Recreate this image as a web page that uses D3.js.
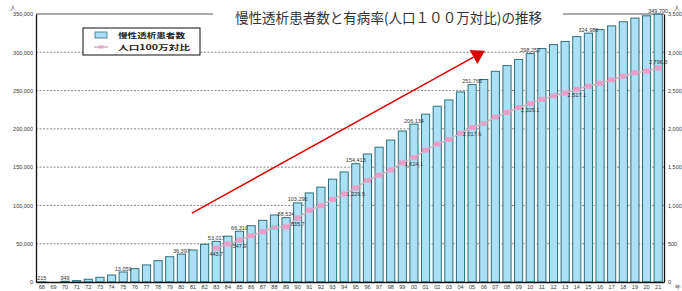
<!DOCTYPE html>
<html>
<head>
<meta charset="utf-8">
<script src="https://cdn.jsdelivr.net/npm/d3@7"></script>
<style>
  body { margin: 0; background: #fff; }
  svg { display: block; font-family: "Liberation Sans", Arial, sans-serif; }
</style>
</head>
<body>
<div id="chart"></div>
<script>
// years 1968 - 2021, shown as two digit labels
const yearLabels = ['68','69','70','71','72','73','74','75','76','77','78','79','80','81','82','83','84','85','86','87',
  '88','89','90','91','92','93','94','95','96','97','98','99','00','01','02','03','04','05','06','07',
  '08','09','10','11','12','13','14','15','16','17','18','19','20','21'];

// chronic dialysis patients (people)
const patients = [215, null, 949, 1826, 3631, 6148, 9107, 13059, 17400, 22300, 27800, 33000, 36397, 41800, 49200, 53017, 59811, 66310, 73537, 80553,
  87500, 84000, 103296, 116303, 123926, 134298, 143709, 154413, 167192, 175988, 185322, 197213, 206134, 219183, 229538, 237710, 248166, 257765, 264473, 275242,
  282622, 290661, 298252, 304856, 310007, 314180, 320448, 324986, 329609, 334505, 339841, 344640, 347671, 349700];

// prevalence per million population
const perMillion = [null, null, null, null, null, null, null, null, null, null, null, null, null, null, null, 443.7, 497.5, 547.9, 604.4, 658.9,
  712.0, 719.0, 835.7, 937.5, 997.2, 1079.0, 1149.0, 1229.5, 1328.0, 1395.0, 1464.0, 1556.0, 1624.1, 1722.0, 1801.0, 1862.0, 1943.0, 2017.6, 2070.0, 2154.0,
  2213.0, 2279.0, 2329.1, 2385.0, 2431.0, 2468.0, 2517.1, 2557.0, 2597.0, 2640.0, 2688.0, 2732.0, 2754.0, 2796.3];

// value labels printed on the chart
const patientLabelYears = ['68','70','75','80','83','85','89','90','95','00','05','10','15','21'];
const patientLabelTexts = ['215','949','13,059','36,397','53,017','66,310','88,534','103,296','154,413','206,134','251,765','298,252','324,986','349,700'];
const rateLabelYears = ['83','85','90','95','00','05','10','14','21'];
const rateLabelTexts = ['443.7','547.9','835.7','1,229.5','1,624.1','2,017.6','2,329.1','2,517.1','2,796.3'];

const leftTicks = [0, 50000, 100000, 150000, 200000, 250000, 300000, 350000];
const rightTicks = [0, 500, 1000, 1500, 2000, 2500, 3000, 3500];

const titleText = '慢性透析患者数と有病率(人口１００万対比)の推移';
const legendTexts = ['慢性透析患者数', '人口100万対比'];

function drawChart(el) {
    const size = { width: 682, height: 291 };
    const plot = { left: 36, right: 664, top: 14, bottom: 282 };

    const svg = d3.select(el).append('svg')
        .attr('width', size.width)
        .attr('height', size.height);

    // scales
    const x = d3.scaleBand()
        .domain(yearLabels)
        .range([plot.left, plot.right])
        .paddingInner(0.3)
        .paddingOuter(0.15);
    const yLeft = d3.scaleLinear().domain([0, 350000]).range([plot.bottom, plot.top]);
    const yRight = d3.scaleLinear().domain([0, 3500]).range([plot.bottom, plot.top]);
    const cx = d => x(d) + x.bandwidth() / 2;
    // fractional position along the years (for the annotation arrow)
    const xIdx = d3.scaleLinear().domain([0, yearLabels.length - 1])
        .range([cx(yearLabels[0]), cx(yearLabels[yearLabels.length - 1])]);

    // grid lines
    svg.append('g')
        .selectAll('line')
        .data(leftTicks.filter(t => t > 0 && t < 350000))
        .enter().append('line')
        .attr('x1', plot.left).attr('x2', plot.right)
        .attr('y1', d => yLeft(d)).attr('y2', d => yLeft(d))
        .style('stroke', '#8a8a8a')
        .style('stroke-width', 1)
        .style('stroke-dasharray', '2,1.5');
    svg.append('line')
        .attr('x1', plot.left).attr('x2', plot.right)
        .attr('y1', yLeft(350000)).attr('y2', yLeft(350000))
        .style('stroke', '#a8a8a8')
        .style('stroke-width', 2);

    // bars
    svg.append('g')
        .selectAll('rect')
        .data(yearLabels.map((y, i) => ({ year: y, value: patients[i] })).filter(d => d.value !== null))
        .enter().append('rect')
        .attr('x', d => x(d.year))
        .attr('y', d => yLeft(d.value))
        .attr('width', x.bandwidth())
        .attr('height', d => plot.bottom - yLeft(d.value))
        .style('fill', '#ace0f4')
        .style('stroke', '#2f6f7c')
        .style('stroke-width', 1);

    // bar value labels
    svg.append('g')
        .selectAll('text')
        .data(patientLabelYears.map((y, i) => ({ year: y, text: patientLabelTexts[i], value: patients[yearLabels.indexOf(y)] })))
        .enter().append('text')
        .attr('x', d => cx(d.year))
        .attr('y', d => yLeft(d.value) - 1.5)
        .attr('text-anchor', 'middle')
        .style('font-size', '5.5px')
        .style('fill', '#333')
        .text(d => d.text);

    // per million line
    const ratePoints = yearLabels.map((y, i) => ({ year: y, value: perMillion[i] })).filter(d => d.value !== null);
    const line = d3.line().x(d => cx(d.year)).y(d => yRight(d.value));
    svg.append('path')
        .datum(ratePoints)
        .attr('d', line)
        .style('fill', 'none')
        .style('stroke', '#cfb4c4')
        .style('stroke-width', 1.5);
    svg.append('g')
        .selectAll('rect')
        .data(ratePoints)
        .enter().append('rect')
        .attr('x', d => cx(d.year) - 3.5)
        .attr('y', d => yRight(d.value) - 2.5)
        .attr('width', 7)
        .attr('height', 5)
        .style('fill', '#eb9fcb');

    svg.append('g')
        .selectAll('text')
        .data(rateLabelYears.map((y, i) => ({ year: y, text: rateLabelTexts[i], value: perMillion[yearLabels.indexOf(y)] })))
        .enter().append('text')
        .attr('x', d => cx(d.year))
        .attr('y', (d, i) => i === rateLabelYears.length - 1 ? yRight(d.value) - 4 : yRight(d.value) + 8)
        .attr('text-anchor', 'middle')
        .style('font-size', '5.5px')
        .style('fill', '#333')
        .text(d => d.text);

    // axes
    const leftAxis = svg.append('g')
        .attr('transform', 'translate(' + plot.left + ',0)')
        .call(d3.axisLeft(yLeft).tickValues(leftTicks).tickSize(0).tickPadding(3).tickFormat(d3.format(',')));
    const rightAxis = svg.append('g')
        .attr('transform', 'translate(' + plot.right + ',0)')
        .call(d3.axisRight(yRight).tickValues(rightTicks).tickSize(0).tickPadding(4).tickFormat(d3.format(',')));
    const bottomAxis = svg.append('g')
        .attr('transform', 'translate(0,' + plot.bottom + ')')
        .call(d3.axisBottom(x).tickSize(0).tickPadding(3));
    [leftAxis, rightAxis, bottomAxis].forEach(a => {
        a.select('.domain').style('stroke', '#111').style('stroke-width', 1.3);
        a.selectAll('text').style('font-size', '5.5px').style('fill', '#333')
            .style('font-family', '"Liberation Sans", Arial, sans-serif');
    });

    // unit labels
    svg.append('text').attr('x', 13).attr('y', 10).attr('text-anchor', 'middle')
        .style('font-size', '6px').style('fill', '#333').text('人');
    svg.append('text').attr('x', 677).attr('y', 10).attr('text-anchor', 'middle')
        .style('font-size', '6px').style('fill', '#333').text('人');
    svg.append('text').attr('x', 678).attr('y', 289).attr('text-anchor', 'middle')
        .style('font-size', '6px').style('fill', '#333').text('年');

    // title over a white box (it hides the top line)
    svg.append('rect')
        .attr('x', 213).attr('y', 3).attr('width', 350).attr('height', 26)
        .style('fill', '#fff');
    svg.append('text')
        .attr('x', 235).attr('y', 23)
        .attr('textLength', 307)
        .attr('lengthAdjust', 'spacingAndGlyphs')
        .style('font-family', '"Noto Sans CJK JP", sans-serif')
        .style('font-size', '14px')
        .style('fill', '#333')
        .text(titleText);

    // legend
    const legend = svg.append('g');
    legend.append('rect')
        .attr('x', 83).attr('y', 28).attr('width', 117).attr('height', 27)
        .style('fill', '#fff').style('stroke', '#111').style('stroke-width', 1);
    legend.append('rect')
        .attr('x', 95).attr('y', 32).attr('width', 12).attr('height', 6)
        .style('fill', '#ace0f4').style('stroke', '#2f6f7c').style('stroke-width', 0.8);
    legend.append('line')
        .attr('x1', 94).attr('x2', 108).attr('y1', 47).attr('y2', 47)
        .style('stroke', '#cfb4c4').style('stroke-width', 1.5);
    legend.append('rect')
        .attr('x', 98.5).attr('y', 45.5).attr('width', 5).attr('height', 3)
        .style('fill', '#eb9fcb');
    legend.selectAll('text.leg')
        .data(legendTexts)
        .enter().append('text')
        .attr('class', 'leg')
        .attr('x', 118)
        .attr('y', (d, i) => 38 + i * 12)
        .attr('textLength', (d, i) => i === 0 ? 67 : 72)
        .attr('lengthAdjust', 'spacingAndGlyphs')
        .style('font-family', '"Noto Sans CJK JP", sans-serif')
        .style('font-size', '7px')
        .style('font-weight', 'bold')
        .style('fill', '#222')
        .text(d => d);

    // red annotation arrow
    const start = [xIdx(12.9), yLeft(90000)];
    const tip = [xIdx(38.1), yLeft(302000)];
    const dx = tip[0] - start[0], dy = tip[1] - start[1];
    const len = Math.sqrt(dx * dx + dy * dy);
    const ux = dx / len, uy = dy / len;
    const headLen = 13, headHalf = 8;
    const base = [tip[0] - ux * headLen, tip[1] - uy * headLen];
    svg.append('line')
        .attr('x1', start[0]).attr('y1', start[1])
        .attr('x2', base[0]).attr('y2', base[1])
        .style('stroke', '#e00000')
        .style('stroke-width', 1.5);
    svg.append('path')
        .attr('d', 'M' + tip[0] + ',' + tip[1] +
            'L' + (base[0] - uy * headHalf) + ',' + (base[1] + ux * headHalf) +
            'L' + (base[0] + uy * headHalf) + ',' + (base[1] - ux * headHalf) + 'Z')
        .style('fill', '#d80000');
}

drawChart(document.getElementById('chart'));
</script>
</body>
</html>
